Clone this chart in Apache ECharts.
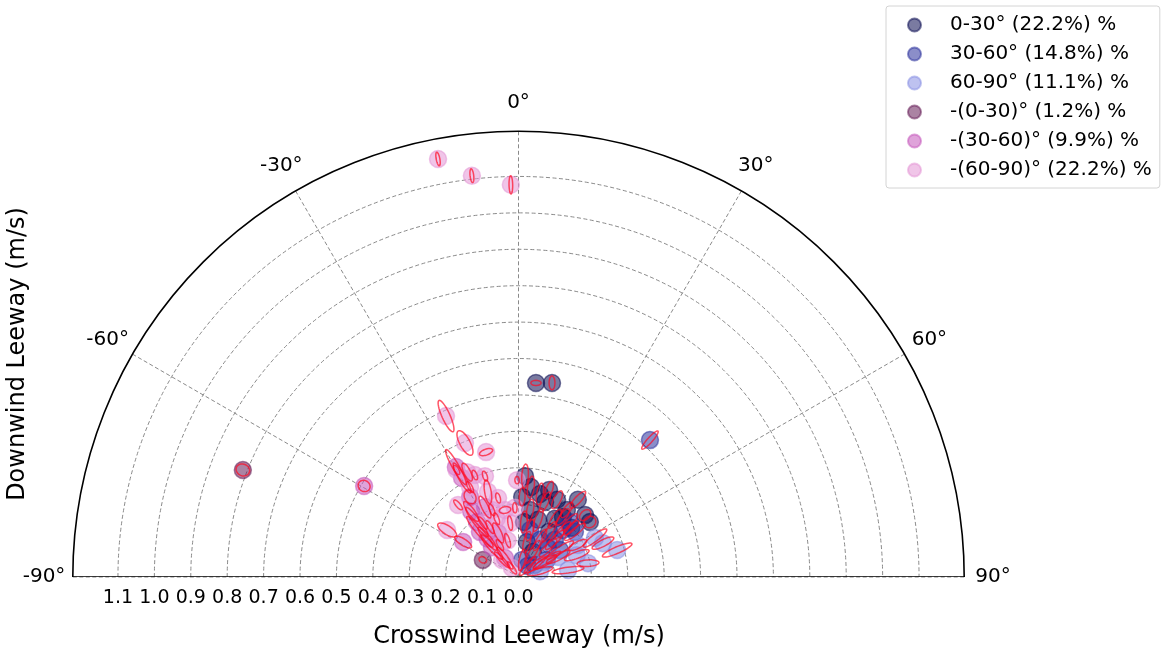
<!DOCTYPE html>
<html>
<head>
<meta charset="utf-8">
<title>Leeway polar plot</title>
<script src="https://cdn.jsdelivr.net/npm/echarts@6.0.0/dist/echarts.min.js"></script>
<style>
  html, body { margin: 0; padding: 0; background: #fff; }
  #chart { width: 1161px; height: 653px; }
</style>
</head>
<body>
<div id="chart"></div>
<script>
// Each row: [crosswind (m/s), downwind (m/s), semi-major (m/s), semi-minor (m/s), tilt from radial (deg)]
const wind0to30 = [
  [0.048, 0.533, 0.014, 0.007, 85],
  [0.092, 0.533, 0.019, 0.008, -10],
  [0.018, 0.277, 0.033, 0.009, 0],
  [0.034, 0.247, 0.030, 0.009, 0],
  [0.059, 0.228, 0.030, 0.009, -5],
  [0.084, 0.239, 0.025, 0.009, 0],
  [0.073, 0.206, 0.030, 0.009, 5],
  [0.106, 0.212, 0.027, 0.010, 0],
  [0.133, 0.184, 0.025, 0.009, 0],
  [0.163, 0.212, 0.030, 0.009, 5],
  [0.183, 0.170, 0.018, 0.012, 0],
  [0.196, 0.151, 0.017, 0.015, 0],
  [0.032, 0.184, 0.030, 0.009, 0],
  [0.054, 0.157, 0.033, 0.009, 0],
  [0.015, 0.151, 0.030, 0.009, 0],
  [0.084, 0.124, 0.033, 0.009, 0],
  [0.023, 0.096, 0.030, 0.009, 0],
  [0.040, 0.069, 0.036, 0.009, 0],
  [0.122, 0.165, 0.027, 0.009, 0],
  [0.010, 0.220, 0.025, 0.008, 0],
  [0.100, 0.160, 0.030, 0.009, 0],
  [0.145, 0.135, 0.027, 0.009, 0]
];
const wind30to60 = [
  [0.361, 0.376, 0.033, 0.007, -2],
  [0.100, 0.102, 0.036, 0.009, 0],
  [0.081, 0.080, 0.033, 0.009, 0],
  [0.122, 0.129, 0.030, 0.009, 0],
  [0.141, 0.151, 0.030, 0.009, 0],
  [0.059, 0.102, 0.033, 0.009, 0],
  [0.155, 0.124, 0.036, 0.009, 0],
  [0.032, 0.129, 0.030, 0.009, 0],
  [0.078, 0.047, 0.044, 0.008, 0],
  [0.045, 0.033, 0.036, 0.008, 0],
  [0.114, 0.074, 0.044, 0.009, 0],
  [0.010, 0.047, 0.030, 0.008, 0],
  [0.025, 0.030, 0.033, 0.008, 0]
];
const wind60to90 = [
  [0.163, 0.088, 0.027, 0.009, 0],
  [0.210, 0.107, 0.040, 0.009, -10],
  [0.232, 0.093, 0.033, 0.009, -5],
  [0.271, 0.074, 0.044, 0.009, -8],
  [0.191, 0.038, 0.030, 0.009, 8],
  [0.109, 0.055, 0.036, 0.009, 0],
  [0.136, 0.019, 0.044, 0.008, 0],
  [0.073, 0.041, 0.036, 0.009, 0],
  [0.059, 0.016, 0.036, 0.008, 0],
  [0.160, 0.060, 0.036, 0.009, 0]
];
const windNeg0to30 = [
  [-0.757, 0.294, 0.019, 0.016, 0],
  [-0.098, 0.047, 0.011, 0.008, 0]
];
const windNeg30to60 = [
  [-0.424, 0.250, 0.017, 0.015, 0],
  [-0.172, 0.302, 0.055, 0.009, 0],
  [-0.155, 0.272, 0.047, 0.009, 0],
  [-0.133, 0.220, 0.020, 0.015, 0],
  [-0.114, 0.151, 0.050, 0.009, 0],
  [-0.152, 0.096, 0.027, 0.009, 0],
  [-0.073, 0.082, 0.044, 0.009, 0],
  [-0.092, 0.192, 0.033, 0.009, 0],
  [-0.106, 0.124, 0.055, 0.009, 0],
  [-0.056, 0.121, 0.030, 0.009, 0],
  [-0.037, 0.052, 0.036, 0.008, 0],
  [-0.130, 0.180, 0.033, 0.009, 0],
  [-0.085, 0.105, 0.040, 0.009, 0]
];
const windNeg60to90 = [
  [-0.221, 1.148, 0.019, 0.005, 0],
  [-0.128, 1.102, 0.019, 0.005, 0],
  [-0.021, 1.077, 0.025, 0.005, 0],
  [-0.199, 0.442, 0.047, 0.011, 0],
  [-0.147, 0.368, 0.038, 0.014, -7],
  [-0.089, 0.343, 0.019, 0.008, 85],
  [-0.120, 0.280, 0.014, 0.006, 0],
  [-0.092, 0.277, 0.014, 0.006, 0],
  [-0.084, 0.234, 0.033, 0.009, 10],
  [-0.196, 0.129, 0.030, 0.012, 0],
  [-0.073, 0.184, 0.017, 0.006, 0],
  [-0.037, 0.184, 0.016, 0.009, 90],
  [-0.010, 0.190, 0.014, 0.006, 0],
  [-0.004, 0.266, 0.010, 0.006, 0],
  [-0.045, 0.047, 0.030, 0.006, 0],
  [-0.018, 0.025, 0.020, 0.006, 0],
  [-0.078, 0.137, 0.020, 0.006, 0],
  [-0.023, 0.148, 0.020, 0.006, 0],
  [-0.051, 0.088, 0.017, 0.006, 0],
  [-0.098, 0.148, 0.020, 0.006, 0],
  [-0.141, 0.288, 0.027, 0.009, 0],
  [-0.030, 0.100, 0.020, 0.006, 0],
  [-0.060, 0.160, 0.017, 0.006, 0],
  [-0.170, 0.294, 0.014, 0.006, 0],
  [-0.133, 0.247, 0.017, 0.006, 0],
  [-0.056, 0.217, 0.014, 0.006, 0],
  [-0.166, 0.198, 0.017, 0.006, 0]
];

const groupNames = [
  '0-30° (22.2%) %',
  '30-60° (14.8%) %',
  '60-90° (11.1%) %',
  '-(0-30)° (1.2%) %',
  '-(30-60)° (9.9%) %',
  '-(60-90)° (22.2%) %'
];
const groupData = [wind0to30, wind30to60, wind60to90, windNeg0to30, windNeg30to60, windNeg60to90];
const groupColors = [
  'rgba(13,15,83,0.55)',
  'rgba(43,50,157,0.55)',
  'rgba(137,143,227,0.55)',
  'rgba(102,30,87,0.55)',
  'rgba(197,87,187,0.55)',
  'rgba(227,150,213,0.55)'
];
const angleTicks = [-90, -60, -30, 0, 30, 60, 90];
const R_MAX = 1.224;   // outer rim (m/s)
const R_GRID = 1.1;    // last labelled ring (m/s)
const R_LABEL = 1.303; // radius at which bearing labels are centred (m/s)

// layout
const CX = 518.5, CY = 577, R_PX = 445.7;
const FONT = 'DejaVu Sans';

// crosswind/downwind -> [speed, bearing]
function toPolar(row) {
  const r = Math.hypot(row[0], row[1]);
  const ang = Math.atan2(row[0], row[1]) * 180 / Math.PI;
  return [r, ang, row[2], row[3], row[4]];
}

const chart = echarts.init(document.getElementById('chart'), null, { renderer: 'canvas' });

const scatterSeries = groupData.map((rows, i) => ({
  name: groupNames[i],
  type: 'scatter',
  coordinateSystem: 'polar',
  polarIndex: 0,
  symbol: 'circle',
  symbolSize: 17,
  itemStyle: { color: groupColors[i], borderColor: groupColors[i], borderWidth: 1.5, opacity: 1 },
  data: rows.map(r => toPolar(r).slice(0, 2)),
  z: 3
}));

const ellipseData = [];
groupData.forEach(rows => rows.forEach(r => ellipseData.push(toPolar(r))));

function renderEllipse(params, api) {
  const r = api.value(0), ang = api.value(1);
  const a = api.value(2), b = api.value(3), tilt = api.value(4);
  const c = api.coord([r, ang]);
  const o = api.coord([0, 0]);
  const e = api.coord([1, 90]);
  const scale = Math.hypot(e[0] - o[0], e[1] - o[1]);
  const d = (ang + tilt) * Math.PI / 180;
  const ux = Math.sin(d), uy = -Math.cos(d);
  const vx = Math.cos(d), vy = Math.sin(d);
  const pts = [];
  const n = 40;
  for (let k = 0; k < n; k++) {
    const t = k / n * Math.PI * 2;
    const ca = Math.cos(t) * a * scale, sb = Math.sin(t) * b * scale;
    pts.push([c[0] + ux * ca + vx * sb, c[1] + uy * ca + vy * sb]);
  }
  return {
    type: 'polygon',
    shape: { points: pts },
    style: { fill: 'none', stroke: 'rgba(255,10,35,0.7)', lineWidth: 1.5 }
  };
}

const option = {
  animation: false,
  backgroundColor: '#fff',
  polar: [
    { center: [CX, CY], radius: R_PX },
    { center: [CX, CY], radius: R_PX * R_GRID / R_MAX }
  ],
  angleAxis: [
    {
      polarIndex: 0, type: 'value', min: -90, max: 90, interval: 30,
      startAngle: 180, endAngle: 0, clockwise: true,
      axisLine: { show: true, lineStyle: { color: '#000', width: 1.6 } },
      axisTick: { show: false },
      axisLabel: { show: false },
      splitLine: { show: true, lineStyle: { color: '#8a8a8a', width: 1, type: [4, 2.5] } }
    },
    {
      polarIndex: 1, type: 'value', min: -90, max: 90, interval: 30,
      startAngle: 180, endAngle: 0, clockwise: true,
      axisLine: { show: false }, axisTick: { show: false },
      axisLabel: { show: false }, splitLine: { show: false }
    }
  ],
  radiusAxis: [
    {
      polarIndex: 0, type: 'value', min: 0, max: R_MAX,
      axisLine: { show: false }, axisTick: { show: false },
      axisLabel: { show: false }, splitLine: { show: false }
    },
    {
      polarIndex: 1, type: 'value', min: 0, max: R_GRID, interval: 0.1,
      axisLine: { show: false }, axisTick: { show: false },
      axisLabel: {
        show: true, interval: 0, margin: 12,
        fontSize: 19, fontFamily: FONT, color: '#000',
        formatter: v => v.toFixed(1)
      },
      splitLine: { show: true, lineStyle: { color: '#8a8a8a', width: 1, type: [4, 2.5] } }
    }
  ],
  legend: {
    data: groupNames,
    orient: 'vertical',
    left: 886, top: 6,
    padding: [9, 8, 8, 21],
    itemGap: 9,
    itemWidth: 13, itemHeight: 13,
    icon: 'circle',
    selectedMode: false,
    borderColor: '#d4d4d4', borderWidth: 1, borderRadius: 3,
    backgroundColor: '#fff',
    textStyle: { fontSize: 20, fontFamily: FONT, color: '#000', padding: [0, 0, 0, 24], lineHeight: 20 }
  },
  series: [
    ...scatterSeries,
    {
      type: 'custom',
      coordinateSystem: 'polar',
      polarIndex: 0,
      renderItem: renderEllipse,
      encode: { radius: 0, angle: 1 },
      data: ellipseData,
      silent: true,
      z: 5
    },
    {
      // straight base line closing the half disc
      type: 'line',
      coordinateSystem: 'polar',
      polarIndex: 0,
      data: [[R_MAX, -90], [R_MAX, 90]],
      symbol: 'none',
      lineStyle: { color: '#000', width: 1.6 },
      silent: true,
      z: 6
    }
  ]
};

chart.setOption(option);

// bearing labels outside the rim, placed through the polar coordinate system
const bearingText = angleTicks.map(a => {
  const p = chart.convertToPixel({ seriesIndex: 0 }, [R_LABEL, a]);
  return {
    type: 'text', x: p[0], y: p[1], silent: true,
    style: { text: a + '°', font: '20px "DejaVu Sans"', fill: '#000', textAlign: 'center', textVerticalAlign: 'middle' }
  };
});

chart.setOption({
  graphic: [
    {
      type: 'text', x: 519, y: 637, silent: true,
      style: { text: 'Crosswind Leeway (m/s)', font: '24px "DejaVu Sans"', fill: '#000', textAlign: 'center', textVerticalAlign: 'middle' }
    },
    {
      type: 'text', x: 18, y: 354, rotation: Math.PI / 2, silent: true,
      style: { text: 'Downwind Leeway (m/s)', font: '24px "DejaVu Sans"', fill: '#000', textAlign: 'center', textVerticalAlign: 'middle' }
    },
    ...bearingText
  ]
});
</script>
</body>
</html>
